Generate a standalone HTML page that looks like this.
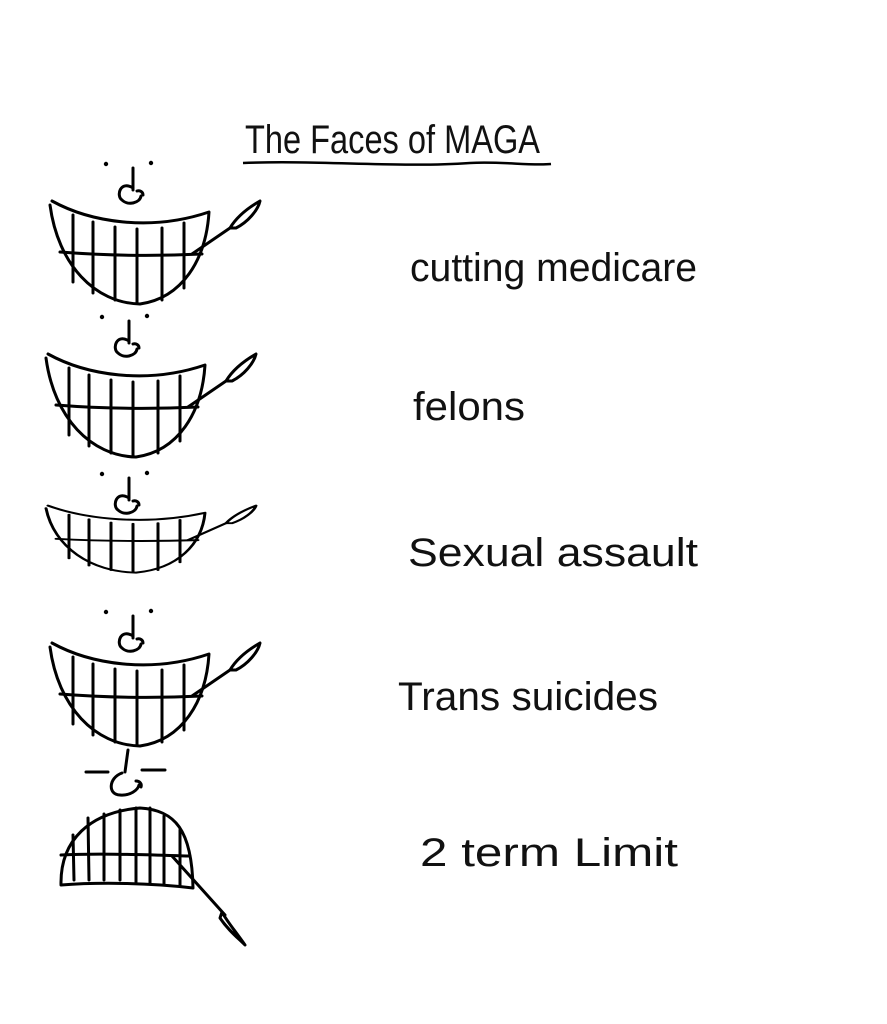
<!DOCTYPE html>
<html><head><meta charset="utf-8"><style>
html,body{margin:0;padding:0;background:#fff;}
svg{display:block}
text{font-family:"Liberation Sans",sans-serif;fill:#111;}
</style></head><body>
<svg width="887" height="1024" viewBox="0 0 887 1024" xmlns="http://www.w3.org/2000/svg">
<defs>
<g id="eyes" fill="none" stroke="#000" stroke-width="3" stroke-linecap="round">
  <circle cx="106" cy="164" r="2.2" fill="#000" stroke="none"/>
  <circle cx="151" cy="163" r="2.2" fill="#000" stroke="none"/>
  <path d="M133,168 L133,190"/>
  <path d="M133,188 C120,180 116,196 122,200 C128,206 140,203 141,196"/>
  <path d="M137,191 C140,190 143,192 143,195"/>
</g>
<g id="mouth" fill="none" stroke="#000" stroke-width="3" stroke-linecap="round" stroke-linejoin="round">
  <path d="M52,201 C90,222 150,232 209,212 C206,260 182,298 140,304 C95,303 58,265 50,205"/>
  <path d="M60,252 C110,256 160,256 202,254"/>
  <path d="M73,215 L73,282 M93,222 L93,293 M115,227 L115,300 M137,229 L137,303 M162,228 L162,300 M184,223 L184,288"/>
  <path d="M192,254 L230,228"/>
  <path d="M230,228 C236,218 246,209 260,201 C258,210 248,222 236,228 Z"/>
</g>
</defs>

<text x="245" y="153" font-size="40" textLength="295" lengthAdjust="spacingAndGlyphs">The Faces of MAGA</text>
<path d="M243,163 C320,160 400,168 470,163 C500,161 530,166 551,164" stroke="#000" stroke-width="2.5" fill="none"/>

<use href="#eyes"/><use href="#mouth"/>
<use href="#eyes" transform="translate(-4,153)"/><use href="#mouth" transform="translate(-4,153)"/>
<use href="#eyes" transform="translate(-4,310)"/><use href="#mouth" transform="translate(-4,375) scale(1,0.65)"/>
<use href="#eyes" transform="translate(0,448)"/><use href="#mouth" transform="translate(0,442)"/>

<g fill="none" stroke="#000" stroke-width="3" stroke-linecap="round" stroke-linejoin="round">
  <path d="M86,772 L108,772 M142,770 L165,770"/>
  <path d="M128,750 L125,772"/>
  <path d="M122,773 C108,778 108,795 120,795 C130,796 138,790 139,785"/>
  <path d="M136,781 C140,781 142,784 141,787"/>
  <path d="M61,885 C60,840 90,812 140,808 C175,810 192,830 193,888 C150,883 100,882 61,885 Z"/>
  <path d="M61,855 C100,853 150,855 190,856"/>
  <path d="M73,835 L74,880 M88,818 L89,880 M104,814 L104,880 M120,810 L120,880 M136,808 L136,882 M150,808 L150,883 M164,816 L164,884 M180,830 L180,886"/>
  <path d="M172,856 L225,915"/>
  <path d="M222,912 C226,920 236,932 245,945 C238,938 228,930 220,918 Z"/>
</g>

<text x="410" y="281" font-size="40" textLength="287" lengthAdjust="spacingAndGlyphs">cutting medicare</text>
<text x="413" y="420" font-size="40" textLength="112" lengthAdjust="spacingAndGlyphs">felons</text>
<text x="408" y="566" font-size="40" textLength="290" lengthAdjust="spacingAndGlyphs">Sexual assault</text>
<text x="398" y="710" font-size="40" textLength="260" lengthAdjust="spacingAndGlyphs">Trans suicides</text>
<text x="420" y="866" font-size="40" textLength="258" lengthAdjust="spacingAndGlyphs">2 term Limit</text>
</svg>
</body></html>
